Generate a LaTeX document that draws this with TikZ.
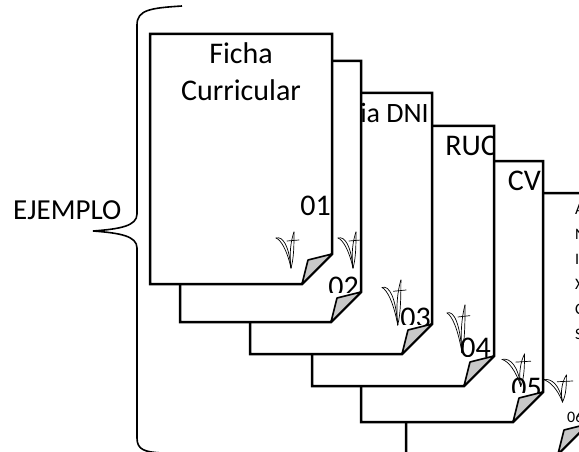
\documentclass[tikz,border=0pt]{standalone}
\usepackage{fontspec}
\setmainfont{Carlito}
\usetikzlibrary{positioning,calc}

\definecolor{pliegue}{RGB}{200,200,200}

\tikzset{
  pagina/.style={draw=black, line width=2.5pt, fill=white, line join=miter},
  doblez/.style={draw=black, line width=1.6pt, fill=pliegue, line join=round},
  firmatrazo/.style={line width=0.7pt, line cap=round},
  llave/.style={line width=1.6pt},
  titulo/.style={font=\fontsize{30}{36}\selectfont, inner sep=0pt, anchor=base east},
  numero/.style={font=\fontsize{30}{36}\selectfont, inner sep=0pt, anchor=base east},
  lista/.style={font=\fontsize{16}{20}\selectfont, inner sep=0pt, anchor=base west},
}

% hoja con la esquina doblada: #1 nombre, #2 izq, #3 arriba, #4 der, #5 abajo
\newcommand\hoja[5]
{
\coordinate (#1-nw) at (#2,#3);        % esquina superior izquierda
\coordinate (#1-ne) at (#4,#3);        % esquina superior derecha
\coordinate (#1-r)  at (#4,#5-30);     % arranque del doblez
\coordinate (#1-b)  at (#4-30,#5);     % final del doblez
\coordinate (#1-sw) at (#2,#5);        % esquina inferior izquierda
\coordinate (#1-t)  at (#4-24,#5-24);  % punta del doblez
\draw[pagina] (#1-nw)--(#1-ne)--(#1-r)--(#1-b)--(#1-sw)--cycle;
\draw[doblez] (#1-b)--(#1-t)--(#1-r)--cycle;
}

% firma a mano: #1 opciones, #2 #3 esquina superior izquierda
\newcommand\firma[3][]
{
\begin{scope}[shift={(#2,#3)}, firmatrazo, #1]
\draw (0,6) .. controls (7,4) and (13,14) .. (15,36);
\draw (0,6) .. controls (5,8) and (11,18) .. (15,36);
\draw (15,36) .. controls (13,22) and (15,8) .. (18,0);
\draw (18,0) .. controls (18,12) and (18,26) .. (15,36);
\draw (11,9) -- (23,8);
\end{scope}
}

\begin{document}
\begin{tikzpicture}[x=1pt, y=-1pt]
\clip (0,0) rectangle (579,452);

% llave y rotulo
\draw[llave] (182,6) .. controls (150,8) and (137,10) .. (137,25) -- (137,214)
  .. controls (137,226) and (120,229) .. (93,231)
  .. controls (120,233) and (137,236) .. (137,248) -- (137,438)
  .. controls (137,450) and (145,452) .. (162,453);
\node[font=\fontsize{29}{34}\selectfont, inner sep=0pt, anchor=base west] (ejemplo) at (13,219) {EJEMPLO};

% hoja 6 (la del fondo)
\hoja{p6}{406}{193}{588}{454}
\begin{scope}
\clip (p6-nw) rectangle (p6-r);
\foreach \letra [count=\i] in {A,N,I,X,C,S}
  \node[lista] (l\i) at (575,189+25*\i) {\letra};
\node[lista] (n6) at (567,422) {06};
\end{scope}
\firma[xscale=1.3, yscale=0.75]{543}{375}

% hoja 5
\hoja{p5}{361}{161}{543}{422}
\begin{scope}
\clip (p5-nw) rectangle (p5-r);
\node[titulo] (cv) at (541,190) {CV};
\node[numero] (n5) at (542,397) {05};
\end{scope}
\firma[xscale=1.25, yscale=0.9]{502}{354}

% hoja 4
\hoja{p4}{312}{126}{494}{386}
\begin{scope}
\clip (p4-nw) rectangle (p4-r);
\node[titulo] (ruc) at (497,155) {RUC};
\node[numero] (n4) at (491,357) {04};
\end{scope}
\firma[yscale=1.33]{447}{305}

% hoja 3
\hoja{p3}{250}{93}{432}{354}
\begin{scope}
\clip (p3-nw) rectangle (p3-r);
\node[titulo, font=\fontsize{28}{34}\selectfont] (dni) at (429,123) {Fotocopia DNI};
\node[numero] (n3) at (431,327) {03};
\end{scope}
\firma[xscale=1.05, yscale=1.25]{382}{280}

% hoja 2
\hoja{p2}{180}{61}{361}{322}
\begin{scope}
\clip (p2-nw) rectangle (p2-r);
\node[numero] (n2) at (359,296) {02};
\end{scope}
\firma{338}{232}

% hoja 1 (la de adelante)
\hoja{p1}{150}{34}{332}{284}
\begin{scope}
\clip (p1-nw) rectangle (p1-r);
\node[titulo, anchor=base] (ficha) at (241,64) {Ficha};
\node[titulo, anchor=base] (curricular) at (241,101) {Curricular};
\node[numero] (n1) at (331,215) {01};
\end{scope}
\firma{276}{232}
\end{tikzpicture}
\end{document}
